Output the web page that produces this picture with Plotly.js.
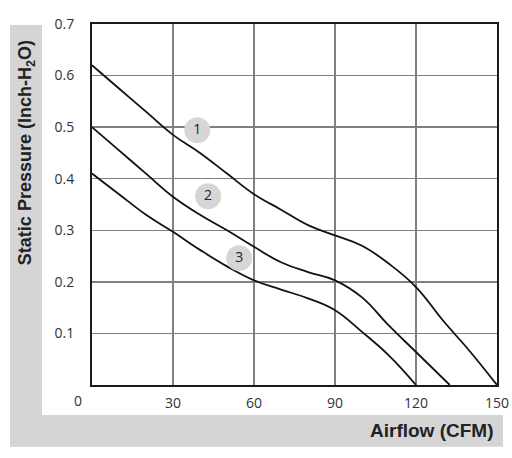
<!DOCTYPE html>
<html>
<head>
<meta charset="utf-8">
<script src="https://cdn.plot.ly/plotly-3.0.1.min.js"></script>
<style>html,body{margin:0;padding:0;background:#fff;}#chart{width:512px;height:458px;}</style>
</head>
<body>
<div id="chart"></div>
<script>
var curve1X = [0, 10, 20, 30, 40, 50, 60, 70, 80, 90, 100, 110, 120, 130, 140, 150];
var curve1Y = [0.62, 0.575, 0.53, 0.485, 0.45, 0.41, 0.37, 0.34, 0.31, 0.29, 0.27, 0.235, 0.19, 0.125, 0.065, 0];
var curve2X = [0, 10, 20, 30, 40, 50, 60, 70, 80, 90, 100, 110, 120, 132.5];
var curve2Y = [0.5, 0.455, 0.41, 0.365, 0.33, 0.3, 0.268, 0.238, 0.219, 0.203, 0.17, 0.115, 0.064, 0];
var curve3X = [0, 10, 20, 30, 40, 50, 60, 70, 80, 90, 100, 110, 120];
var curve3Y = [0.41, 0.37, 0.33, 0.297, 0.262, 0.23, 0.203, 0.185, 0.168, 0.145, 0.103, 0.057, 0];
var labelNames = ["1", "2", "3"];
var labelX = [39, 43, 54.5];
var labelY = [0.494, 0.366, 0.246];
var xTicks = [30, 60, 90, 120, 150];
var yTicks = [0.1, 0.2, 0.3, 0.4, 0.5, 0.6, 0.7];

function line(x, y) {
  return {x: x, y: y, type: 'scatter', mode: 'lines',
    line: {color: '#111', width: 1.8, shape: 'spline', smoothing: 1.2},
    hoverinfo: 'skip', showlegend: false};
}
var data = [line(curve1X, curve1Y), line(curve2X, curve2Y), line(curve3X, curve3Y),
  {x: labelX, y: labelY, type: 'scatter', mode: 'markers+text', text: labelNames,
   textposition: 'middle center',
   textfont: {family: 'Open Sans, sans-serif', size: 14, color: '#222'},
   marker: {size: 26, color: '#d6d6d6', line: {width: 0}},
   showlegend: false, hoverinfo: 'skip'}];

var grey = '#d5d5d5';
var tickFont = {family: 'Open Sans, sans-serif', size: 14, color: '#333'};
var layout = {
  width: 512, height: 458,
  margin: {l: 92, r: 15, t: 24, b: 73, pad: 0},
  paper_bgcolor: '#fff', plot_bgcolor: '#fff',
  showlegend: false,
  xaxis: {range: [0, 150], tickvals: xTicks, ticktext: xTicks.map(String),
    showgrid: true, gridcolor: '#808080', gridwidth: 1.5,
    showline: true, linecolor: '#1a1a1a', linewidth: 2, mirror: true,
    zeroline: false, ticks: 'outside', ticklen: 4, tickcolor: 'rgba(0,0,0,0)',
    tickfont: tickFont},
  yaxis: {range: [0, 0.7], tickvals: yTicks, ticktext: yTicks.map(function(v){return v.toFixed(1);}),
    showgrid: true, gridcolor: '#808080', gridwidth: 1.5,
    showline: true, linecolor: '#1a1a1a', linewidth: 2, mirror: true,
    zeroline: false, ticks: 'outside', ticklen: 13, tickcolor: 'rgba(0,0,0,0)',
    tickfont: tickFont},
  shapes: [
    {type: 'rect', xref: 'paper', yref: 'paper', x0: -0.2025, x1: -0.1235, y0: -0.171, y1: 0.997,
     fillcolor: grey, line: {width: 0}, layer: 'below'},
    {type: 'rect', xref: 'paper', yref: 'paper', x0: -0.2025, x1: 1.0148, y0: -0.171, y1: -0.0831,
     fillcolor: grey, line: {width: 0}, layer: 'below'}
  ],
  annotations: [
    {text: '0', xref: 'paper', yref: 'paper', x: -0.035, y: -0.042, showarrow: false,
     xanchor: 'center', yanchor: 'middle', font: tickFont},
    {text: '<b>Static Pressure (Inch-H<sub>2</sub>O)</b>', xref: 'paper', yref: 'paper', x: -0.163, y: 0.645,
     textangle: -90, showarrow: false, xanchor: 'center', yanchor: 'middle',
     font: {family: 'Liberation Sans, Arial, sans-serif', size: 18, color: '#222'}},
    {text: '<b>Airflow (CFM)</b>', xref: 'paper', yref: 'paper', x: 0.995, y: -0.127,
     showarrow: false, xanchor: 'right', yanchor: 'middle',
     font: {family: 'Liberation Sans, Arial, sans-serif', size: 19, color: '#222'}}
  ]
};
Plotly.newPlot('chart', data, layout, {displayModeBar: false, staticPlot: true});
</script>
</body>
</html>
